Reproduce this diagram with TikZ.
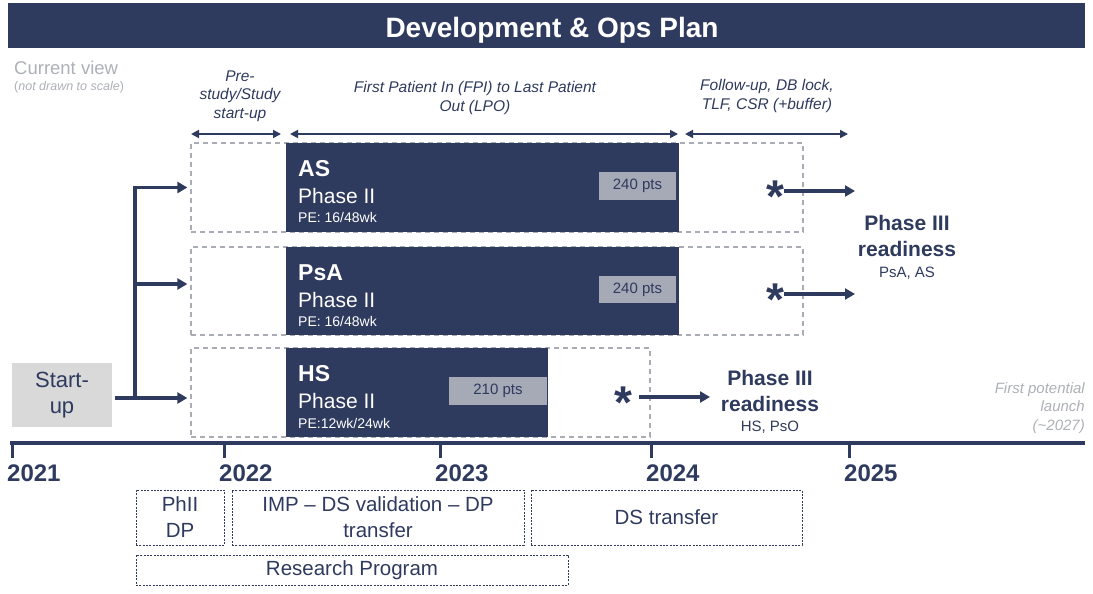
\documentclass[tikz,border=0pt]{standalone}
\usepackage{fontspec}
\setmainfont{Liberation Sans}
\usetikzlibrary{arrows.meta}
\definecolor{navy}{HTML}{2E3A5E}
\definecolor{grayline}{HTML}{A9ACB4}
\definecolor{ptsfill}{HTML}{A6A9B6}
\definecolor{startfill}{HTML}{D9D9D9}
\definecolor{graytext}{HTML}{ADB0B7}
\begin{document}
\begin{tikzpicture}[x=1pt,y=-1pt,
  conn/.style={draw=navy, line width=3.2pt, -{Triangle[length=10pt,width=11pt]}},
  dimarrow/.style={draw=navy, line width=1.7pt, {Triangle[length=8pt,width=8pt]}-{Triangle[length=8pt,width=8pt]}},
  dashbox/.style={draw=grayline, dash pattern=on 5pt off 4pt, line width=1.3pt, rectangle, inner sep=0},
  darkbox/.style={fill=navy, draw=none, rectangle, inner sep=0},
  ptsbox/.style={fill=ptsfill, text=navy, rectangle, inner sep=0, font=\fontsize{15}{18}\selectfont},
  trial/.style={text=white, font=\bfseries\fontsize{23}{27}\selectfont, anchor=base west, inner sep=0},
  phase/.style={text=white, font=\fontsize{21}{25}\selectfont, anchor=base west, inner sep=0},
  pe/.style={text=white, font=\fontsize{14}{17}\selectfont, anchor=base west, inner sep=0},
  star/.style={text=navy, font=\bfseries\fontsize{46}{46}\selectfont, inner sep=0, anchor=base},
  toplabel/.style={text=navy, font=\itshape\fontsize{15.5}{19}\selectfont, align=center, inner sep=0, anchor=base},
  ready/.style={text=navy, font=\bfseries\fontsize{21}{26}\selectfont, align=center, inner sep=0, anchor=base},
  readysub/.style={text=navy, font=\fontsize{15}{18}\selectfont, inner sep=0, anchor=base},
  year/.style={text=navy, font=\bfseries\fontsize{24}{28}\selectfont, inner sep=0, anchor=base west},
  planbox/.style={draw=navy, dash pattern=on 2pt off 1.3pt, line width=0.9pt, text=navy, rectangle,
    font=\fontsize{20.5}{26}\selectfont, align=center, inner sep=0},
  tick/.style={draw=navy, line width=3pt}
]
\useasboundingbox (0,0) rectangle (1093,594);
% title
\node[fill=navy, minimum width=1077, minimum height=45, inner sep=0] (titlebar) at (546.5,25.5) {};
\node[text=white, font=\bfseries\fontsize{28}{32}\selectfont, inner sep=0, anchor=base] (title) at (552,38) {Development \& Ops Plan};
% current view
\node[text=graytext, font=\fontsize{18.5}{22}\selectfont, anchor=base west, inner sep=0] (cv) at (14,75) {Current view};
\node[text=graytext, font=\fontsize{12.5}{14}\selectfont, anchor=base west, inner sep=0] (ns) at (14,91) {(\textit{not drawn to scale})};
% top labels (base = last line)
\node[toplabel, font=\itshape\fontsize{15.5}{18.5}\selectfont] (lpre) at (240,118) {Pre-\\study/Study\\start-up};
\node[toplabel] (lfpi) at (475,111) {First Patient In (FPI) to Last Patient\\Out (LPO)};
\node[toplabel] (lfol) at (767,110) {Follow-up, DB lock,\\TLF, CSR (+buffer)};
% dimension arrows
\coordinate (d1a) at (191,134); \coordinate (d1b) at (281,134);
\coordinate (d2a) at (290,134); \coordinate (d2b) at (678,134);
\coordinate (d3a) at (685,134); \coordinate (d3b) at (848,134);
\draw[dimarrow] (d1a) -- (d1b);
\draw[dimarrow] (d2a) -- (d2b);
\draw[dimarrow] (d3a) -- (d3b);
% AS row
\node[dashbox, minimum width=612, minimum height=89] (asdash) at (497,187.5) {};
\node[darkbox, minimum width=393, minimum height=89] (asbox) at (482.5,187.5) {};
\node[trial] (asname) at (298,176) {AS};
\node[phase] (asphase) at (298,203) {Phase II};
\node[pe] (aspe) at (298,222) {PE: 16/48wk};
\node[ptsbox, minimum width=77, minimum height=28] (aspts) at (637.5,186) {240 pts};
\node[star] (asstar) at (775,212) {*};
\coordinate (asa) at (784,191); \coordinate (asb) at (855,191);
\draw[conn] (asa) -- (asb);
% PsA row
\node[dashbox, minimum width=612, minimum height=88] (psadash) at (497,291) {};
\node[darkbox, minimum width=393, minimum height=88] (psabox) at (482.5,291) {};
\node[trial] (psaname) at (298,280) {PsA};
\node[phase] (psaphase) at (298,307) {Phase II};
\node[pe] (psape) at (298,326) {PE: 16/48wk};
\node[ptsbox, minimum width=77, minimum height=27] (psapts) at (637.5,289.5) {240 pts};
\node[star] (psastar) at (775,315) {*};
\coordinate (psaa) at (784,294); \coordinate (psab) at (855,294);
\draw[conn] (psaa) -- (psab);
\node[ready] (ready1) at (907,256) {Phase III\\readiness};
\node[readysub] (ready1s) at (907,277) {PsA, AS};
% HS row
\node[dashbox, minimum width=459, minimum height=89] (hsdash) at (420.5,392.5) {};
\node[darkbox, minimum width=262, minimum height=89] (hsbox) at (417,392.5) {};
\node[trial] (hsname) at (298,381) {HS};
\node[phase] (hsphase) at (298,408) {Phase II};
\node[pe] (hspe) at (298,428) {PE:12wk/24wk};
\node[ptsbox, minimum width=98, minimum height=28] (hspts) at (498,391) {210 pts};
\node[star] (hsstar) at (623,418) {*};
\coordinate (hsa) at (639,397); \coordinate (hsb) at (710,397);
\draw[conn] (hsa) -- (hsb);
\node[ready] (ready2) at (770,411) {Phase III\\readiness};
\node[readysub] (ready2s) at (770,431) {HS, PsO};
% launch
\node[text=graytext, font=\itshape\fontsize{15}{18.5}\selectfont, align=right, anchor=base east, inner sep=0] (launch) at (1085,430) {First potential\\launch\\(\textasciitilde2027)};
% start-up
\node[fill=startfill, text=navy, minimum width=100, minimum height=64, inner sep=0, align=center,
  font=\fontsize{22}{26}\selectfont] (startup) at (62,395) {Start-\\up};
\coordinate (j0) at (135,398);
\draw[conn, shorten >=3pt] ([xshift=3pt]startup.east |- j0) -- (j0 -| hsdash.west);
\draw[conn, shorten >=3pt] (j0) |- (asdash.west);
\draw[conn, shorten >=3pt] (j0) |- ([yshift=7pt]psadash.west);
% timeline
\coordinate (tl0) at (10,443); \coordinate (tl1) at (1085,443);
\draw[navy, line width=4pt] (tl0) -- (tl1);
\foreach \x/\yr in {12/2021,224/2022,440/2023,651/2024,849/2025}{
  \draw[tick] (\x,443) -- (\x,458);
  \node[year] (y\yr) at (\x-5,481) {\yr};
}
% plan boxes
\node[planbox, minimum width=88, minimum height=55] (phii) at (180,517.5) {PhII\\DP};
\node[planbox, minimum width=292, minimum height=55] (imp) at (378,517.5) {IMP -- DS validation -- DP\\transfer};
\node[planbox, minimum width=271, minimum height=55] (dst) at (666.5,517.5) {DS transfer};
\node[planbox, minimum width=432, minimum height=30] (rp) at (352,570) {Research Program};
\end{tikzpicture}
\end{document}
